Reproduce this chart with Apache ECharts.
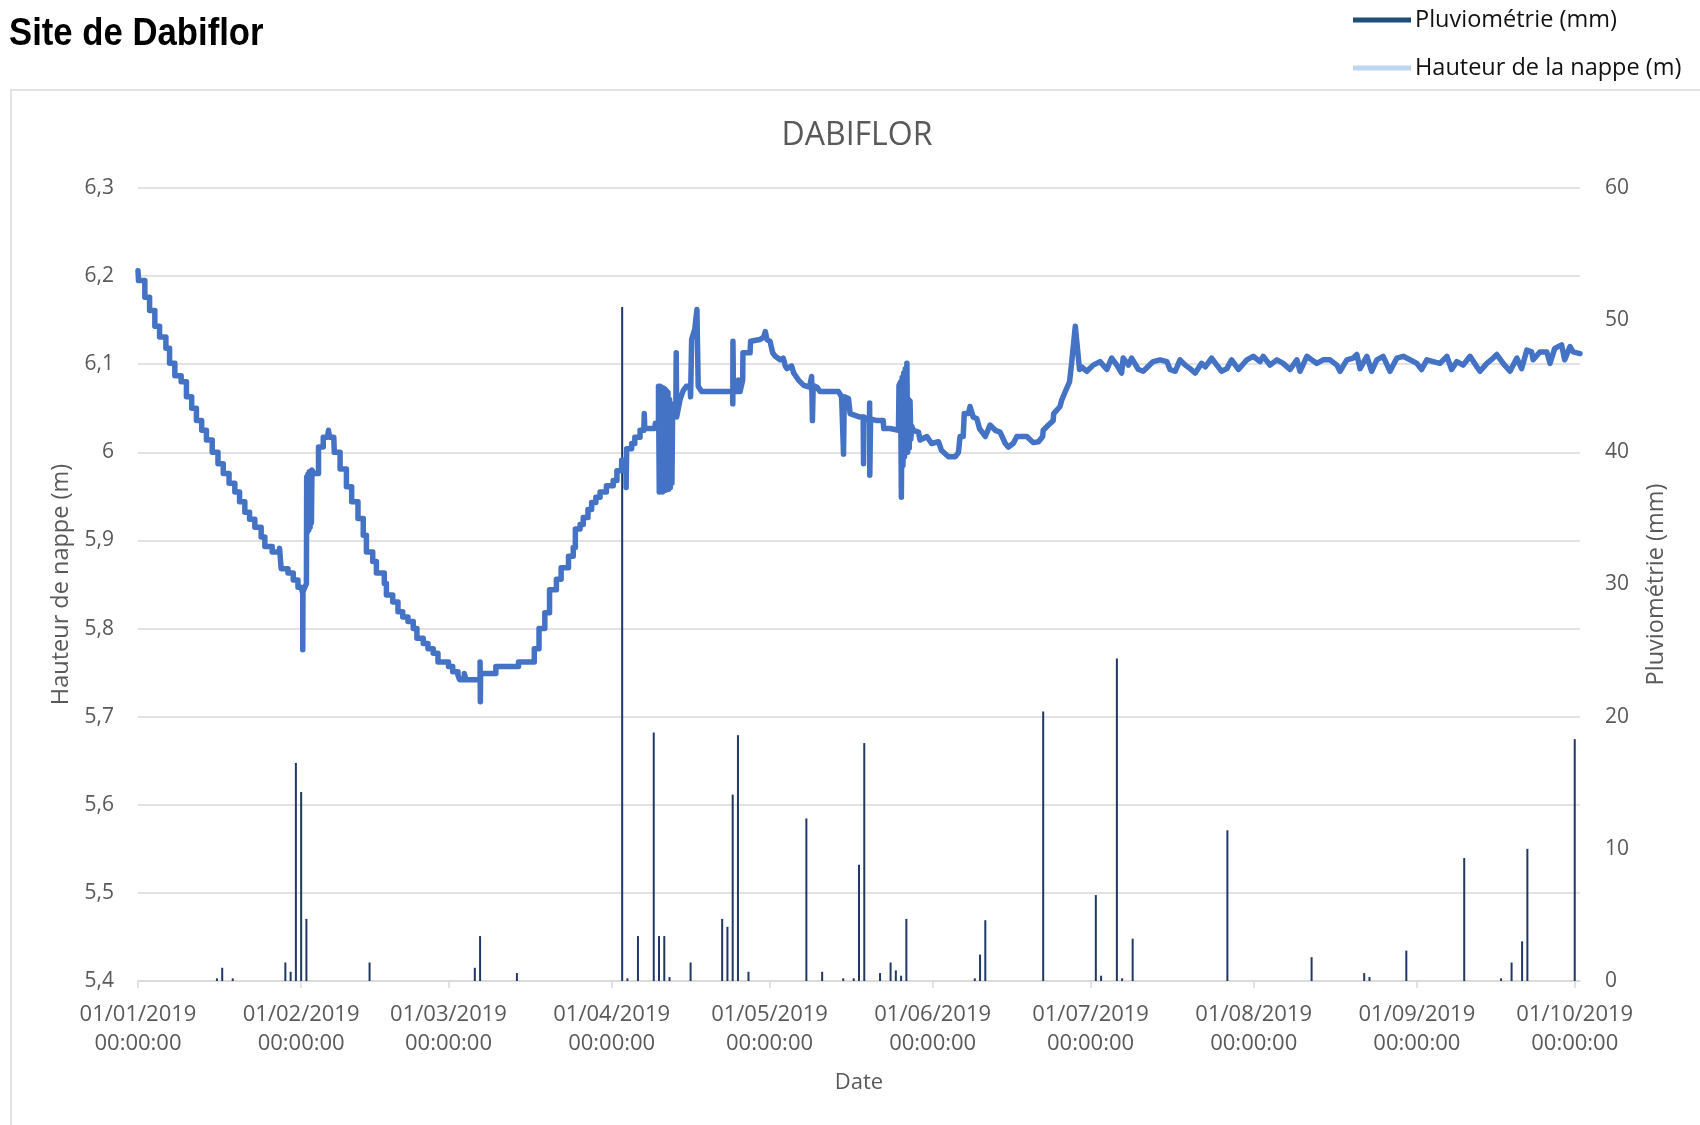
<!DOCTYPE html>
<html><head><meta charset="utf-8">
<script src="https://cdn.jsdelivr.net/npm/echarts@6/dist/echarts.min.js"></script>
<style>html,body{margin:0;padding:0;background:#fff}#c{width:1700px;height:1125px}</style>
</head><body><div id="c"></div>
<script>
const pageTitle = 'Site de Dabiflor';
const chartTitle = 'DABIFLOR';
const levelName = 'Hauteur de la nappe (m)';
const rainName = 'Pluviométrie (mm)';
const leftAxisName = 'Hauteur de nappe (m)';
const rightAxisName = 'Pluviométrie (mm)';
const xAxisName = 'Date';
const startDate = '2019-01-01';
const endDate = '2019-10-02';
const xTickDates = ['2019-01-01','2019-02-01','2019-03-01','2019-04-01','2019-05-01','2019-06-01','2019-07-01','2019-08-01','2019-09-01','2019-10-01'];

// water table height: days since 01/01/2019 and value (m)
const levelDays = [
0,0.1,1.3,1.3,2.2,2.2,3.2,3.2,4.1,4.1,5.3,5.3,6.0,6.0,7.0,7.0,8.2,8.2,9.2,9.2,10.2,10.2,11.1,11.1,12.1,12.1,13.0,13.0,14.1,14.1,15.2,15.2,16.2,16.2,17.3,17.3,18.4,18.4,19.3,19.3,20.3,20.3,21.2,21.2,22.2,22.2,23.4,23.4,24.1,24.1,25.5,25.5,26.9,26.9,27.2,27.2,28.5,28.5,29.5,29.5,30.4,30.4,31.0,31.3,31.3,31.35,32.0,
32.05,32.2,32.3,32.45,32.55,32.7,32.8,32.95,33.05,33.4,33.4,34.3,34.3,35.2,35.2,36.0,36.2,36.4,37.2,37.3,38.4,38.4,39.6,39.6,40.6,40.6,41.8,41.8,42.8,42.8,43.4,43.4,44.6,44.6,45.3,45.3,46.8,46.8,47.2,47.2,48.4,48.4,49.4,49.4,50.3,50.3,51.3,51.3,52.3,52.3,53.0,53.0,54.2,54.2,55.1,55.1,56.1,56.1,57.0,57.0,59.0,59.0,59.8,59.8,60.8,60.8,61.1,61.1,62.0,62.0,62.3,62.3,65.0,65.0,65.05,65.1,68.0,68.0,72.3,72.3,75.3,75.3,76.2,76.2,77.3,77.3,78.2,78.2,79.5,79.5,80.4,80.4,81.8,81.8,82.7,82.7,83.1,83.1,84.0,84.0,84.6,84.6,85.5,85.5,86.2,86.2,87.0,87.0,87.8,87.8,89.0,89.0,90.3,90.3,91.0,91.0,91.9,91.9,92.7,92.75,92.85,93.8,93.8,94.4,94.4,95.4,95.4,96.1,96.2,96.3,98.2,98.3,98.9,98.9,
99.05,99.2,99.35,99.5,99.65,99.8,99.95,100.1,100.25,100.4,100.55,100.7,100.85,101.0,101.15,101.3,101.45,101.6,102.2,102.27,102.35,103.0,103.6,104.2,104.9,105.0,105.2,105.8,106.2,106.45,107.1,113.0,113.02,113.05,113.15,114.0,114.1,114.4,114.9,114.95,116.3,116.4,118.2,118.9,119.2,119.5,120.1,120.6,121.1,122.0,122.6,123.0,123.3,124.2,124.6,125.5,126.5,127.6,128.0,128.15,128.3,129.0,129.6,133.1,133.7,134.0,134.06,134.2,135.0,135.3,137.2,137.8,137.86,137.95,139.0,139.02,139.05,139.2,140.4,141.6,141.7,142.9,143.0,144.5,144.6,144.9,145.05,145.2,145.35,145.5,145.65,145.8,145.95,146.1,146.25,146.4,146.55,146.7,146.85,147.0,147.3,148.3,148.6,149.9,150.8,152.1,152.7,154.0,155.3,155.9,156.2,156.8,157.0,157.8,158.1,158.7,159.4,159.9,161.0,161.9,162.9,163.8,164.8,165.4,166.3,167.0,168.9,170.1,171.1,171.9,172.0,173.0,173.9,174.0,175.2,175.5,176.2,177.0,177.4,178.1,178.9,179.3,180.3,181.5,182.8,184.1,185.0,186.0,186.9,187.2,188.2,188.8,190.1,191.0,192.9,194.2,195.5,196.1,197.1,198.0,199.0,199.9,200.9,202.1,202.8,204.0,205.0,205.9,206.9,207.8,209.1,
210.7,211.9,213.2,213.8,215.1,216.4,217.6,218.9,220.2,220.8,222.1,223.0,224.0,225.2,226.5,227.8,228.4,229.7,230.9,231.6,232.2,233.5,234.4,235.4,236.6,237.9,239.2,240.4,241.7,243.0,243.9,244.9,246.1,247.4,248.7,249.6,250.6,251.8,253.1,254.4,255.0,256.3,257.5,258.2,259.4,260.7,262.0,262.9,263.9,264.8,265.1,266.4,267.7,268.3,269.2,270.5,271.1,272.1,272.7,274.0
];
const levelValues = [
6.206,6.195,6.195,6.176,6.176,6.161,6.161,6.143,6.143,6.131,6.131,6.118,6.118,6.101,6.101,6.087,6.087,6.080,6.080,6.063,6.063,6.050,6.050,6.036,6.036,6.025,6.025,6.014,6.014,6.000,6.000,5.987,5.987,5.976,5.976,5.965,5.965,5.955,5.955,5.944,5.944,5.932,5.932,5.924,5.924,5.915,5.915,5.904,5.904,5.893,5.893,5.887,5.887,5.891,5.891,5.868,5.868,5.863,5.863,5.855,5.855,5.847,5.847,5.840,5.776,5.842,5.851,
5.972,5.910,5.975,5.912,5.978,5.915,5.978,5.920,5.980,5.980,5.976,5.976,6.006,6.006,6.017,6.017,6.025,6.017,6.017,6.000,6.000,5.981,5.981,5.961,5.961,5.944,5.944,5.925,5.925,5.906,5.906,5.887,5.887,5.876,5.876,5.863,5.863,5.851,5.851,5.838,5.838,5.830,5.830,5.819,5.819,5.813,5.813,5.808,5.808,5.800,5.800,5.789,5.789,5.783,5.783,5.777,5.777,5.772,5.772,5.762,5.762,5.757,5.757,5.751,5.751,5.747,5.747,5.742,5.742,5.749,5.749,5.742,5.742,5.762,5.717,5.749,5.749,5.757,5.757,5.762,5.762,5.777,5.777,5.800,5.800,5.818,5.818,5.844,5.844,5.856,5.856,5.869,5.869,5.882,5.882,5.892,5.892,5.913,5.913,5.918,5.918,5.926,5.926,5.935,5.935,5.943,5.943,5.949,5.949,5.955,5.955,5.962,5.962,5.968,5.968,5.979,5.979,5.991,5.991,5.960,6.004,6.004,6.010,6.010,6.017,6.017,6.025,6.025,6.044,6.027,6.027,6.033,6.033,6.075,
5.955,6.075,5.958,6.074,5.955,6.073,5.960,6.072,5.957,6.070,5.962,6.068,5.958,6.060,5.960,6.055,5.965,6.052,6.052,6.113,6.040,6.060,6.070,6.075,6.075,6.063,6.128,6.140,6.162,6.075,6.069,6.069,6.055,6.126,6.069,6.069,6.082,6.069,6.082,6.113,6.113,6.126,6.128,6.131,6.137,6.128,6.126,6.113,6.109,6.105,6.107,6.098,6.095,6.098,6.090,6.082,6.076,6.074,6.086,6.036,6.076,6.074,6.069,6.069,6.063,6.063,5.998,6.063,6.061,6.044,6.040,6.040,5.987,6.040,6.036,6.056,5.974,6.038,6.036,6.036,6.027,6.027,6.025,6.025,6.076,6.080,5.949,6.085,5.985,6.090,5.995,6.095,6.005,6.101,6.000,6.060,6.005,6.058,6.015,6.030,6.025,6.023,6.014,6.018,6.010,6.012,6.002,5.995,5.995,6.000,6.018,6.018,6.044,6.044,6.052,6.040,6.038,6.027,6.018,6.031,6.025,6.023,6.010,6.006,6.010,6.018,6.018,6.011,6.012,6.018,6.025,6.031,6.036,6.044,6.052,6.059,6.069,6.080,6.101,6.143,6.094,6.097,6.092,6.099,6.103,6.094,6.107,6.099,6.090,6.107,6.099,6.107,6.094,6.092,6.103,6.105,6.103,6.094,6.092,6.105,6.099,6.095,6.090,6.101,6.097,6.107,6.099,6.092,6.095,6.105,6.094,
6.105,6.109,6.103,6.109,6.099,6.105,6.101,6.094,6.105,6.092,6.109,6.105,6.101,6.105,6.105,6.099,6.092,6.105,6.107,6.111,6.095,6.109,6.092,6.105,6.109,6.092,6.107,6.109,6.105,6.101,6.094,6.105,6.103,6.101,6.109,6.094,6.103,6.099,6.109,6.097,6.092,6.101,6.107,6.111,6.101,6.092,6.107,6.095,6.116,6.114,6.105,6.114,6.114,6.101,6.118,6.122,6.105,6.120,6.114,6.112
];

// daily rainfall
const rainDates = ['2019-01-16','2019-01-17','2019-01-19','2019-01-29','2019-01-30','2019-01-31','2019-02-01','2019-02-02','2019-02-14','2019-03-06','2019-03-07','2019-03-14','2019-04-03','2019-04-04','2019-04-06','2019-04-09','2019-04-10','2019-04-11','2019-04-12','2019-04-16','2019-04-22','2019-04-23','2019-04-24','2019-04-25','2019-04-27','2019-05-08','2019-05-11','2019-05-15','2019-05-17','2019-05-18','2019-05-19','2019-05-22','2019-05-24','2019-05-25','2019-05-26','2019-05-27','2019-06-09','2019-06-10','2019-06-11','2019-06-22','2019-07-02','2019-07-03','2019-07-06','2019-07-07','2019-07-09','2019-07-27','2019-08-12','2019-08-22','2019-08-23','2019-08-30','2019-09-10','2019-09-17','2019-09-19','2019-09-21','2019-09-22','2019-10-01'];
const rainMm = [0.2,1.0,0.2,1.4,0.7,16.5,14.3,4.7,1.4,1.0,3.4,0.6,51.0,0.2,3.4,18.8,3.4,3.4,0.3,1.4,4.7,4.1,14.1,18.6,0.7,12.3,0.7,0.2,0.2,8.8,18.0,0.6,1.4,0.8,0.4,4.7,0.2,2.0,4.6,20.4,6.5,0.4,24.4,0.2,3.2,11.4,1.8,0.6,0.3,2.3,9.3,0.2,1.4,3.0,10.0,18.3];

const DAY = 86400000;
const t0 = Date.parse(startDate);
const levelData = levelDays.map((d, i) => [t0 + d * DAY, levelValues[i]]);
const rainData = rainDates.map((d, i) => [Date.parse(d), rainMm[i]]);
const xTicks = xTickDates.map(d => Date.parse(d));

function fmtDate(v) {
  const d = new Date(v);
  const dd = String(d.getUTCDate()).padStart(2, '0');
  const mm = String(d.getUTCMonth() + 1).padStart(2, '0');
  return dd + '/' + mm + '/' + d.getUTCFullYear() + '\n00:00:00';
}
function fmtLevel(v) {
  return String(Math.round(v * 10) / 10).replace('.', ',');
}

const FONT = '"Open Sans", "Noto Sans", sans-serif';
const GREY = '#595959';
const chart = echarts.init(document.getElementById('c'));
chart.setOption({
  animation: false,
  backgroundColor: '#ffffff',
  title: {
    text: chartTitle, left: 852, top: 115, textAlign: 'center',
    textStyle: {fontFamily: FONT, fontSize: 32, fontWeight: 'normal', color: GREY}
  },
  legend: {
    orient: 'vertical', left: 1348, top: 3, icon: 'rect', itemWidth: 58, itemHeight: 5, itemGap: 24, itemStyle: {borderWidth: 0},
    textStyle: {fontFamily: FONT, fontSize: 23.5, color: '#111', padding: [0, 0, 0, -1]},
    data: [
      {name: rainName, itemStyle: {color: '#1F4E79'}},
      {name: levelName, itemStyle: {color: '#BDD7EE'}}
    ]
  },
  graphic: [
    {type: 'rect', silent: true, shape: {x: 11, y: 90, width: 1720, height: 1100},
     style: {fill: 'none', stroke: '#d9d9d9', lineWidth: 1.5}},
    {type: 'text', silent: true, x: 9, y: 15, scaleX: 0.89, originX: 0,
     style: {text: pageTitle, font: 'bold 39px "Liberation Sans", Arial, sans-serif', fill: '#000', verticalAlign: 'top'}}
  ],
  grid: {left: 138, right: 120, top: 188, bottom: 144, containLabel: false},
  xAxis: {
    type: 'value', min: t0, max: Date.parse(endDate),
    axisLine: {lineStyle: {color: '#d9d9d9', width: 1.5}},
    axisTick: {show: true, length: 7, lineStyle: {color: '#d9d9d9', width: 1.5}, customValues: xTicks},
    axisLabel: {customValues: xTicks, formatter: fmtDate, fontFamily: FONT, fontSize: 22, color: GREY, lineHeight: 29, margin: 19, hideOverlap: false},
    splitLine: {show: false},
    name: xAxisName, nameLocation: 'middle', nameGap: 91,
    nameTextStyle: {fontFamily: FONT, fontSize: 22, color: GREY}
  },
  yAxis: [
    {
      type: 'value', position: 'left', min: 5.4, max: 6.3, interval: 0.1,
      axisLine: {show: false}, axisTick: {show: false},
      splitLine: {lineStyle: {color: '#d9d9d9', width: 1.5}},
      axisLabel: {formatter: fmtLevel, fontFamily: FONT, fontSize: 21, color: GREY, margin: 24},
      name: leftAxisName, nameLocation: 'middle', nameGap: 64, nameRotate: 90,
      nameTextStyle: {fontFamily: FONT, fontSize: 23.5, color: GREY}
    },
    {
      type: 'value', position: 'right', min: 0, max: 60, interval: 10,
      axisLine: {show: false}, axisTick: {show: false}, splitLine: {show: false},
      axisLabel: {fontFamily: FONT, fontSize: 21, color: GREY, margin: 25},
      name: rightAxisName, nameLocation: 'middle', nameGap: 64, nameRotate: 90,
      nameTextStyle: {fontFamily: FONT, fontSize: 23.5, color: GREY}
    }
  ],
  series: [
    {
      name: rainName, type: 'bar', yAxisIndex: 1, data: rainData, barWidth: 2,
      itemStyle: {color: '#203864'}, z: 2
    },
    {
      name: levelName, type: 'line', yAxisIndex: 0, data: levelData, showSymbol: false, symbol: 'none',
      lineStyle: {color: '#4472C4', width: 5.5, cap: 'round', join: 'round'}, itemStyle: {color: '#4472C4'}, z: 3
    }
  ]
});
</script></body></html>
